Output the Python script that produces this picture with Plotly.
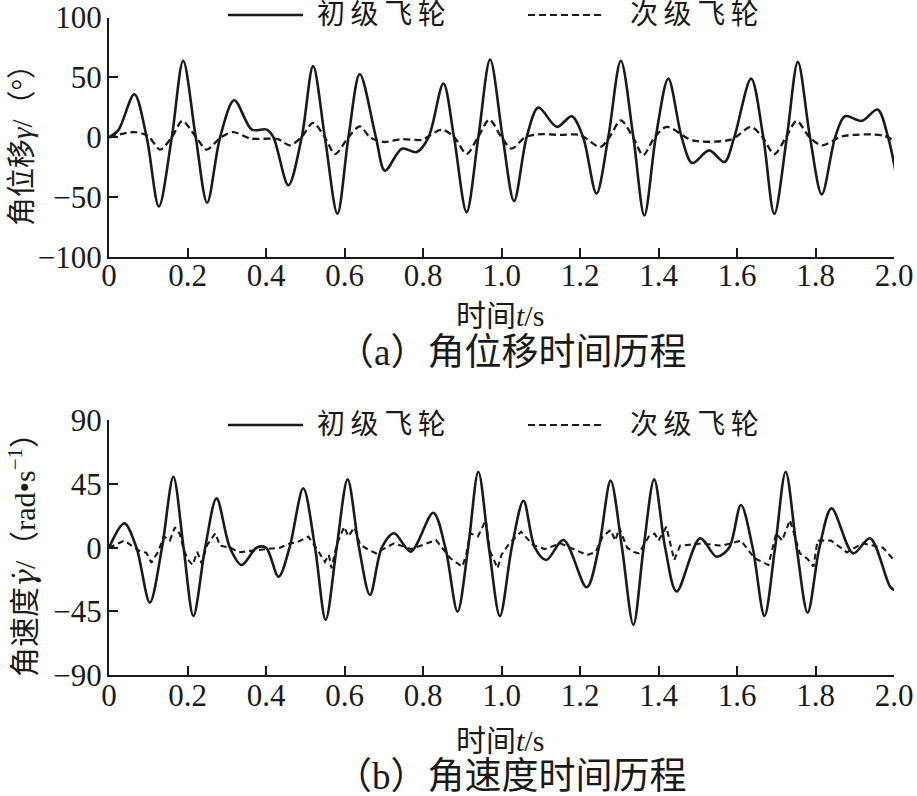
import plotly.graph_objects as go

# ---------------- data ----------------
# (a) angular displacement, primary flywheel (solid)
t_disp_primary = [0, 0.024, 0.0645, 0.096, 0.127, 0.160, 0.189, 0.221, 0.250, 0.283, 0.319,
                  0.364, 0.402, 0.419, 0.457, 0.491, 0.520, 0.550, 0.582, 0.610, 0.639,
                  0.680, 0.703, 0.746, 0.784, 0.814, 0.852, 0.879, 0.911, 0.941, 0.971,
                  1.003, 1.032, 1.064, 1.094, 1.141, 1.179, 1.208, 1.242, 1.272, 1.304,
                  1.336, 1.364, 1.393, 1.425, 1.459, 1.486, 1.529, 1.568, 1.593, 1.636,
                  1.667, 1.695, 1.727, 1.755, 1.786, 1.816, 1.850, 1.875, 1.918, 1.958,
                  1.985, 2.003]
v_disp_primary = [0, 6, 36, 0, -57.8, 0, 64, 0, -54.7, 0, 31,
                  6.4, 6.4, 0, -40, 0, 59.5, 0, -63.9, 0, 52.8,
                  0, -28, -9.5, -12.3, 0, 45, 0, -62.5, 0, 65,
                  0, -53.3, 0, 24.9, 8.7, 17.6, 0, -47, 0, 64,
                  0, -65.3, 0, 49, 0, -21.5, -10.9, -20.6, 0, 49,
                  0, -64, 0, 63, 0, -47.7, 0, 17.6, 13.7, 23.2,
                  0, -27]

# (a) angular displacement, secondary flywheel (dashed)
t_disp_secondary = [0, 0.064, 0.100, 0.130, 0.160, 0.187, 0.220, 0.249, 0.285, 0.317,
                    0.360, 0.430, 0.461, 0.490, 0.520, 0.550, 0.576, 0.610, 0.639,
                    0.665, 0.700, 0.746, 0.797, 0.848, 0.880, 0.911, 0.940, 0.969,
                    1.000, 1.026, 1.060, 1.094, 1.150, 1.200, 1.251, 1.275, 1.304,
                    1.335, 1.361, 1.390, 1.421, 1.486, 1.584, 1.636, 1.665, 1.695,
                    1.725, 1.752, 1.785, 1.816, 1.870, 1.972, 2.005]
v_disp_secondary = [0, 4.4, 1, -10.3, 0, 13.7, 1, -10.3, 0, 4.4,
                    -1, -1.5, -6.7, 0, 12, 0, -14, 0, 9.2,
                    0, -3.9, -1.5, -2, 6.4, 0, -14, 0, 14.8,
                    0, -9.5, 0, 2.5, 2, 2, -8.1, 0, 14.2,
                    0, -15, 0, 8.7, -2.5, -2, 8.7, 0, -14,
                    0, 13.7, 0, -6.7, 1, 1.5, -3.9]

# (b) angular velocity, primary flywheel (solid)
t_vel_primary = [0, 0.039, 0.070, 0.104, 0.135, 0.164, 0.190, 0.215, 0.245, 0.274, 0.308,
                 0.338, 0.376, 0.400, 0.432, 0.460, 0.495, 0.525, 0.552, 0.580, 0.608,
                 0.637, 0.665, 0.695, 0.726, 0.769, 0.826, 0.857, 0.888, 0.915, 0.941,
                 0.968, 0.996, 1.026, 1.056, 1.085, 1.114, 1.158, 1.217, 1.248, 1.278,
                 1.307, 1.336, 1.362, 1.389, 1.417, 1.446, 1.506, 1.548, 1.580, 1.610,
                 1.640, 1.670, 1.697, 1.724, 1.752, 1.780, 1.810, 1.841, 1.896, 1.939,
                 1.990, 2.003]
v_vel_primary = [0, 17.2, 0, -38.8, 0, 50.2, 0, -48.3, 0, 34.9, 0,
                 -12.2, 0, 0, -20.5, 0, 42, 0, -51, 0, 48.3,
                 0, -33.4, 0, 10.2, -2.8, 24.7, 0, -45.2, 0, 53.7,
                 0, -48.3, 0, 33.2, 0, -8.7, 5.4, -28, 0, 47.4,
                 0, -54.6, 0, 48.3, 0, -31, 6.6, -6.4, 0, 30.2,
                 0, -48.3, 0, 53.7, 0, -45.9, 0, 27.8, -4, 6.6,
                 -27.5, -30.4]

# (b) angular velocity, secondary flywheel (dashed)
t_vel_secondary = [0, 0.039, 0.080, 0.095, 0.108, 0.125, 0.140, 0.155, 0.168, 0.180, 0.190,
                   0.200, 0.213, 0.225, 0.236, 0.250, 0.271, 0.283, 0.310, 0.330, 0.400,
                   0.436, 0.460, 0.480, 0.508, 0.530, 0.550, 0.560, 0.567, 0.580, 0.599,
                   0.610, 0.625, 0.640, 0.665, 0.680, 0.726, 0.770, 0.833, 0.870, 0.900,
                   0.910, 0.920, 0.940, 0.960, 0.970, 0.990, 1.000, 1.020, 1.050, 1.080,
                   1.110, 1.150, 1.218, 1.240, 1.258, 1.278, 1.290, 1.300, 1.320, 1.336,
                   1.350, 1.375, 1.390, 1.400, 1.420, 1.440, 1.455, 1.510, 1.560, 1.610,
                   1.645, 1.680, 1.700, 1.715, 1.735, 1.760, 1.780, 1.795, 1.805, 1.840,
                   1.880, 1.920, 1.972, 2.000]
v_vel_secondary = [0, 5, -2.8, -3.5, -10.6, -3, 8, 5, 14.4, 10, -1,
                   -8, -12.2, -3, -11, 2, 10.2, 1.4, 0, -3.3, -1,
                   0, 3, 4, 7.8, -1, -10, -5, -14.6, 2, 14.8,
                   8, 14.4, 2, -2, -3.9, 3.1, -1, 5.4, -7.5, -13.4,
                   -5, 10.2, 8, 19.6, -2, -14.6, -5, 3.1, 11.3, 2,
                   -1, 3.1, -5.2, -3, 8, 12.5, 5, 14, 0, -3,
                   -4, 7.8, 10, 5, 14.8, -8.7, 1.4, 3, 1.4, 5,
                   -7.5, -12.2, 10.2, 5, 19.6, -4, -8, -13.4, 5, 5,
                   -3.3, 3.1, 0, -8.7]

x_ticks = [0, 0.2, 0.4, 0.6, 0.8, 1.0, 1.2, 1.4, 1.6, 1.8, 2.0]
x_tick_labels = ["0", "0.2", "0.4", "0.6", "0.8", "1.0", "1.2", "1.4", "1.6", "1.8", "2.0"]
y1_ticks = [-100, -50, 0, 50, 100]
y1_tick_labels = ["−100", "−50", "0", "50", "100"]
y2_ticks = [-90, -45, 0, 45, 90]
y2_tick_labels = ["−90", "−45", "0", "45", "90"]

series_names = ["初级飞轮", "次级飞轮"]

# ---------------- figure ----------------
W, H = 917, 796
INK = "#1a1a1a"
FONT = "Liberation Serif, 'Noto Sans CJK SC', serif"


def px(x):
    return x / W


def py(y):
    return 1 - y / H


fig = go.Figure()

fig.add_trace(go.Scatter(x=t_disp_primary, y=v_disp_primary, mode="lines",
                         name=series_names[0], line=dict(color=INK, width=2.6, shape="spline", smoothing=0.9),
                         xaxis="x", yaxis="y", showlegend=False))
fig.add_trace(go.Scatter(x=t_disp_secondary, y=v_disp_secondary, mode="lines",
                         name=series_names[1], line=dict(color=INK, width=2.3, dash="7px,4px", shape="spline", smoothing=0.8),
                         xaxis="x", yaxis="y", showlegend=False))
fig.add_trace(go.Scatter(x=t_vel_primary, y=v_vel_primary, mode="lines",
                         name=series_names[0], line=dict(color=INK, width=2.6, shape="spline", smoothing=0.9),
                         xaxis="x2", yaxis="y2", showlegend=False))
fig.add_trace(go.Scatter(x=t_vel_secondary, y=v_vel_secondary, mode="lines",
                         name=series_names[1], line=dict(color=INK, width=2.1, dash="6px,4px"),
                         xaxis="x2", yaxis="y2", showlegend=False))

axis_common = dict(showline=True, linecolor=INK, linewidth=2.2, ticks="inside", ticklen=9,
                   tickwidth=2, tickcolor=INK, showgrid=False, zeroline=False, automargin=False,
                   tickfont=dict(family=FONT, size=31, color=INK))

x_dom = [px(109), px(894)]
fig.update_layout(
    width=W, height=H, autosize=False,
    margin=dict(l=0, r=0, t=0, b=0, pad=0),
    paper_bgcolor="white", plot_bgcolor="white",
    font=dict(family=FONT, color=INK),
    showlegend=False,
    xaxis=dict(domain=x_dom, range=[0, 2.0], anchor="y", tickvals=x_ticks, ticktext=x_tick_labels,
               ticklabelstandoff=-10, **axis_common),
    yaxis=dict(domain=[py(257), py(17.6)], range=[-100, 100], anchor="x", tickvals=y1_ticks,
               ticktext=y1_tick_labels, ticklabelstandoff=-1, **axis_common),
    xaxis2=dict(domain=x_dom, range=[0, 2.0], anchor="y2", tickvals=x_ticks, ticktext=x_tick_labels,
                ticklabelstandoff=-8, **axis_common),
    yaxis2=dict(domain=[py(675), py(420.4)], range=[-90, 90], anchor="x2", tickvals=y2_ticks,
                ticktext=y2_tick_labels, ticklabelstandoff=-1, **axis_common),
)

annotations = []
shapes = []


def text(x, y, s, size, xanchor="center", angle=0):
    annotations.append(dict(x=px(x), y=py(y), xref="paper", yref="paper", text=s, showarrow=False,
                            xanchor=xanchor, yanchor="middle", textangle=angle,
                            font=dict(family=FONT, size=size, color=INK)))


# legends (one per panel)
for ly in (15, 425):
    shapes.append(dict(type="line", xref="paper", yref="paper", x0=px(228), x1=px(303), y0=py(ly), y1=py(ly),
                       line=dict(color=INK, width=2.4)))
    shapes.append(dict(type="line", xref="paper", yref="paper", x0=px(528), x1=px(603), y0=py(ly), y1=py(ly),
                       line=dict(color=INK, width=2.2, dash="7px,4px")))
    text(315, ly, "\u2009".join(series_names[0]), 28, xanchor="left")
    text(628, ly, "\u2009".join(series_names[1]), 28, xanchor="left")

# axis titles
GAMMA_DOT = "<span style='font-family:DejaVu Serif'><i>γ̇</i></span>"
text(22, 138, "角位移<i>γ</i>/（°）", 29, angle=-90)
text(22, 548, "角速度" + GAMMA_DOT + "/（rad•s<sup>−1</sup>）", 30, angle=-90)
text(500, 315, "时间<i>t</i>/s", 30)
text(500, 740, "时间<i>t</i>/s", 30)

# captions
text(511, 352, "（a）角位移时间历程", 37)
text(511, 776, "（b）角速度时间历程", 37)

fig.update_layout(annotations=annotations, shapes=shapes)

fig.write_html("out.html", config={"displayModeBar": False},
               post_script="document.body.style.margin='0';document.body.style.overflow='hidden';")
